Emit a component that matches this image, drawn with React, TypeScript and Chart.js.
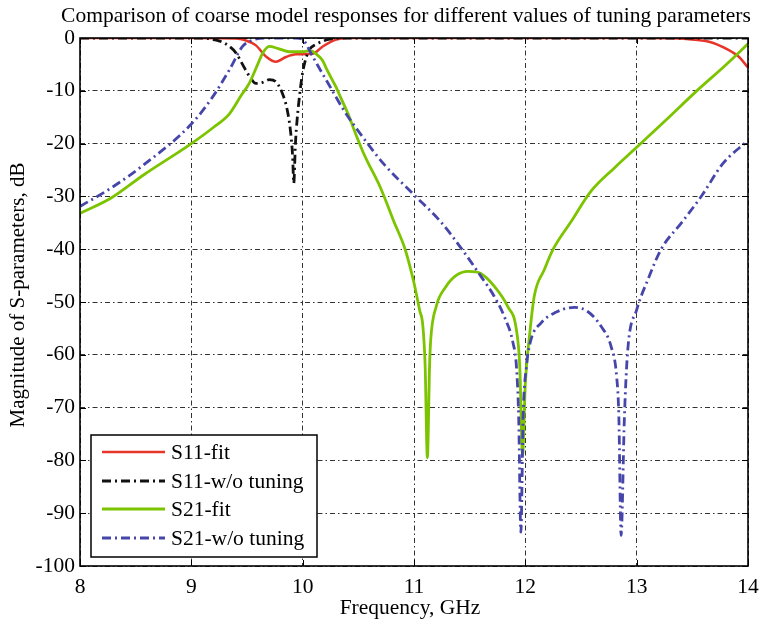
import React, { useEffect, useRef } from "react";
import { Chart, registerables } from "chart.js";
Chart.register(...registerables);

const FONT = "'Liberation Serif', 'Times New Roman', serif";

const chartTitle = "Comparison of coarse model responses for different values of tuning parameters";
const xTitle = "Frequency, GHz";
const yTitle = "Magnitude of S-parameters, dB";

const xTicks = [8, 9, 10, 11, 12, 13, 14];
const yTicks = [0, -10, -20, -30, -40, -50, -60, -70, -80, -90, -100];

const seriesNames = ["S11-fit", "S11-w/o tuning", "S21-fit", "S21-w/o tuning"];

const s11FitFreq = [8, 9.0, 9.4, 9.48, 9.58, 9.67, 9.76, 9.85, 9.94, 10.09, 10.18, 10.3, 10.4, 11, 12, 13, 13.3, 13.45, 13.65, 13.82, 13.92, 14];
const s11FitDb = [0, 0, -0.1, -0.4, -1.4, -3.5, -4.5, -3.6, -3.1, -3.0, -1.6, -0.3, 0, 0, 0, 0, -0.05, -0.2, -0.7, -2.2, -3.6, -5.6];

const s11RawFreq = [8, 9.1, 9.2, 9.3, 9.4, 9.46, 9.52, 9.58, 9.64, 9.7, 9.76, 9.82, 9.86, 9.89, 9.91, 9.92, 9.935, 9.95, 9.98, 10.0, 10.03, 10.06, 10.12, 10.18, 10.25, 10.3, 14];
const s11RawDb = [0, 0, -0.3, -1.0, -2.8, -5.0, -7.2, -8.6, -8.4, -7.9, -8.3, -10.6, -13.5, -17.5, -22.5, -27.5, -20, -15.5, -9.5, -6.5, -3.8, -2.2, -1.2, -0.6, -0.2, 0, 0];

const s21FitFreq = [8, 8.28, 8.58, 9.0, 9.2, 9.34, 9.45, 9.52, 9.6, 9.64, 9.7, 9.78, 9.88, 10.0, 10.07, 10.12, 10.18, 10.22, 10.3, 10.34, 10.42, 10.46, 10.54, 10.58, 10.7, 10.82, 10.92, 11.0, 11.05, 11.08, 11.1, 11.12, 11.14, 11.15, 11.2, 11.28, 11.37, 11.49, 11.6, 11.72, 11.84, 11.92, 11.95, 11.975, 12.0, 12.04, 12.08, 12.17, 12.25, 12.41, 12.59, 12.8, 13.0, 13.29, 13.53, 13.8, 14];
const s21FitDb = [-33.2, -30.3, -25.8, -20, -16.9, -14.4, -10.8, -8.6, -4.8, -2.9, -1.6, -2.0, -2.6, -2.6, -2.4, -3.0, -4.3, -6.1, -9.3, -11.2, -15, -17.3, -21.5, -23.3, -28.4, -34.8, -40, -46.4, -51.5, -54.6, -62, -79.5, -62, -57.2, -50.8, -47.3, -45.1, -44.2, -44.6, -47, -50.8, -55.3, -62.2, -79, -65.4, -55.9, -48.9, -43.9, -40, -34.8, -29, -24.6, -20.7, -15, -10.2, -5.1, -1.1];

const s21RawFreq = [8, 8.28, 8.58, 9.0, 9.19, 9.34, 9.46, 9.55, 9.7, 9.94, 10.0, 10.09, 10.16, 10.24, 10.37, 10.52, 10.73, 11.0, 11.24, 11.43, 11.6, 11.72, 11.81, 11.89, 11.92, 11.94, 11.96, 11.98, 12.01, 12.05, 12.14, 12.26, 12.44, 12.56, 12.68, 12.77, 12.82, 12.84, 12.86, 12.89, 12.92, 13.0, 13.1, 13.22, 13.41, 13.59, 13.77, 14];
const s21RawDb = [-31.9, -28.4, -23.9, -16.3, -11.2, -6.1, -1.6, -0.4, 0, 0, -0.3, -3.5, -6.1, -9, -13.7, -18.2, -23.9, -29.7, -34.8, -40, -45.1, -48.9, -52.7, -57.8, -62.2, -71.7, -93.6, -71.7, -62.2, -57.2, -54, -52.1, -51, -51.8, -54.6, -58.4, -64.1, -71.7, -94.2, -71.7, -59.1, -51.5, -45.8, -40, -34.8, -29.7, -23.9, -19.4];

const COLORS = ["#e8352a", "#111111", "#7cc400", "#4646aa"];
const DASHES: number[][] = [[], [9, 4, 2, 4], [], [9, 4, 2, 4]];
const WIDTHS = [2.5, 2.8, 2.8, 2.8];

function pts(f: number[], v: number[]) {
  return f.map((x, i) => ({ x, y: v[i] }));
}

const decor = {
  id: "decor",
  beforeDraw(chart: any) {
    const ctx = chart.ctx;
    ctx.save();
    ctx.fillStyle = "#fff";
    ctx.fillRect(0, 0, chart.width, chart.height);
    ctx.restore();
  },
  afterDatasetsDraw(chart: any) {
    const { ctx, chartArea: a, scales } = chart;
    ctx.save();
    ctx.strokeStyle = "#000";
    ctx.lineWidth = 1;
    ctx.setLineDash([]);
    const tl = 6;
    scales.x.ticks.forEach((t: any) => {
      const px = Math.round(scales.x.getPixelForValue(t.value)) + 0.5;
      ctx.beginPath();
      ctx.moveTo(px, a.bottom); ctx.lineTo(px, a.bottom - tl);
      ctx.moveTo(px, a.top); ctx.lineTo(px, a.top + tl);
      ctx.stroke();
    });
    scales.y.ticks.forEach((t: any) => {
      const py = Math.round(scales.y.getPixelForValue(t.value)) + 0.5;
      ctx.beginPath();
      ctx.moveTo(a.left, py); ctx.lineTo(a.left + tl, py);
      ctx.moveTo(a.right, py); ctx.lineTo(a.right - tl, py);
      ctx.stroke();
    });
    ctx.lineWidth = 1.6;
    ctx.strokeRect(a.left, a.top, a.right - a.left, a.bottom - a.top);

    const lx = 91, ly = 435, lw = 226, lh = 122;
    ctx.fillStyle = "#fff";
    ctx.fillRect(lx, ly, lw, lh);
    ctx.lineWidth = 1.5;
    ctx.strokeStyle = "#000";
    ctx.strokeRect(lx, ly, lw, lh);
    const rows = [452, 481, 509, 538];
    ctx.font = `21.5px ${FONT}`;
    ctx.textBaseline = "middle";
    ctx.textAlign = "left";
    chart.data.datasets.forEach((ds: any, i: number) => {
      ctx.strokeStyle = ds.borderColor;
      ctx.lineWidth = ds.borderWidth;
      ctx.setLineDash(ds.borderDash || []);
      ctx.beginPath();
      ctx.moveTo(102, rows[i]);
      ctx.lineTo(165, rows[i]);
      ctx.stroke();
      ctx.setLineDash([]);
      ctx.fillStyle = "#000";
      ctx.fillText(ds.label, 171, rows[i] + 1);
    });
    ctx.restore();
  },
  afterDraw(chart: any) {
    const ctx = chart.ctx;
    ctx.save();
    ctx.fillStyle = "#000";
    ctx.textBaseline = "middle";
    ctx.textAlign = "center";
    ctx.font = `21.5px ${FONT}`;
    ctx.fillText(chartTitle, 406, 16);
    ctx.fillText(xTitle, 410, 608);
    ctx.font = `21px ${FONT}`;
    ctx.translate(18, 295);
    ctx.rotate(-Math.PI / 2);
    ctx.fillText(yTitle, 0, 0);
    ctx.restore();
  },
};

export default function App() {
  const ref = useRef<HTMLCanvasElement>(null);
  useEffect(() => {
    if (!ref.current) return;
    const data = [pts(s11FitFreq, s11FitDb), pts(s11RawFreq, s11RawDb), pts(s21FitFreq, s21FitDb), pts(s21RawFreq, s21RawDb)];
    const chart = new Chart(ref.current, {
      type: "line",
      data: {
        datasets: data.map((d, i) => ({
          label: seriesNames[i],
          data: d,
          borderColor: COLORS[i],
          backgroundColor: COLORS[i],
          borderWidth: WIDTHS[i],
          borderDash: DASHES[i],
          pointRadius: 0,
          fill: false,
          cubicInterpolationMode: "monotone" as const,
          order: 4 - i,
        })),
      },
      options: {
        responsive: false,
        animation: false,
        devicePixelRatio: 1,
        layout: { padding: { top: 38, right: 13, left: 0, bottom: 0 } },
        plugins: { legend: { display: false }, title: { display: false }, tooltip: { enabled: false } },
        scales: {
          x: {
            type: "linear",
            min: 8,
            max: 14,
            afterBuildTicks: (s: any) => { s.ticks = xTicks.map((v) => ({ value: v })); },
            afterFit: (s: any) => { s.height = 63; s.paddingLeft = 0; s.paddingRight = 0; },
            ticks: { color: "#000", font: { family: FONT, size: 21.5 }, padding: 8, maxRotation: 0 },
            grid: { color: "#333", lineWidth: 1, drawTicks: false },
            border: { display: false, dash: [5, 3, 1.5, 3] },
          },
          y: {
            type: "linear",
            min: -100,
            max: 0,
            afterBuildTicks: (s: any) => { s.ticks = yTicks.map((v) => ({ value: v })); },
            afterFit: (s: any) => { s.width = 80; s.paddingTop = 0; s.paddingBottom = 0; },
            ticks: { color: "#000", font: { family: FONT, size: 21.5 }, padding: 5 },
            grid: { color: "#333", lineWidth: 1, drawTicks: false },
            border: { display: false, dash: [5, 3, 1.5, 3] },
          },
        },
      },
      plugins: [decor],
    } as any);
    return () => chart.destroy();
  }, []);
  return (
    <div style={{ position: "fixed", left: 0, top: 0, width: 761, height: 629, background: "#fff" }}>
      <canvas ref={ref} width={761} height={629} style={{ display: "block", width: 761, height: 629 }} />
    </div>
  );
}
